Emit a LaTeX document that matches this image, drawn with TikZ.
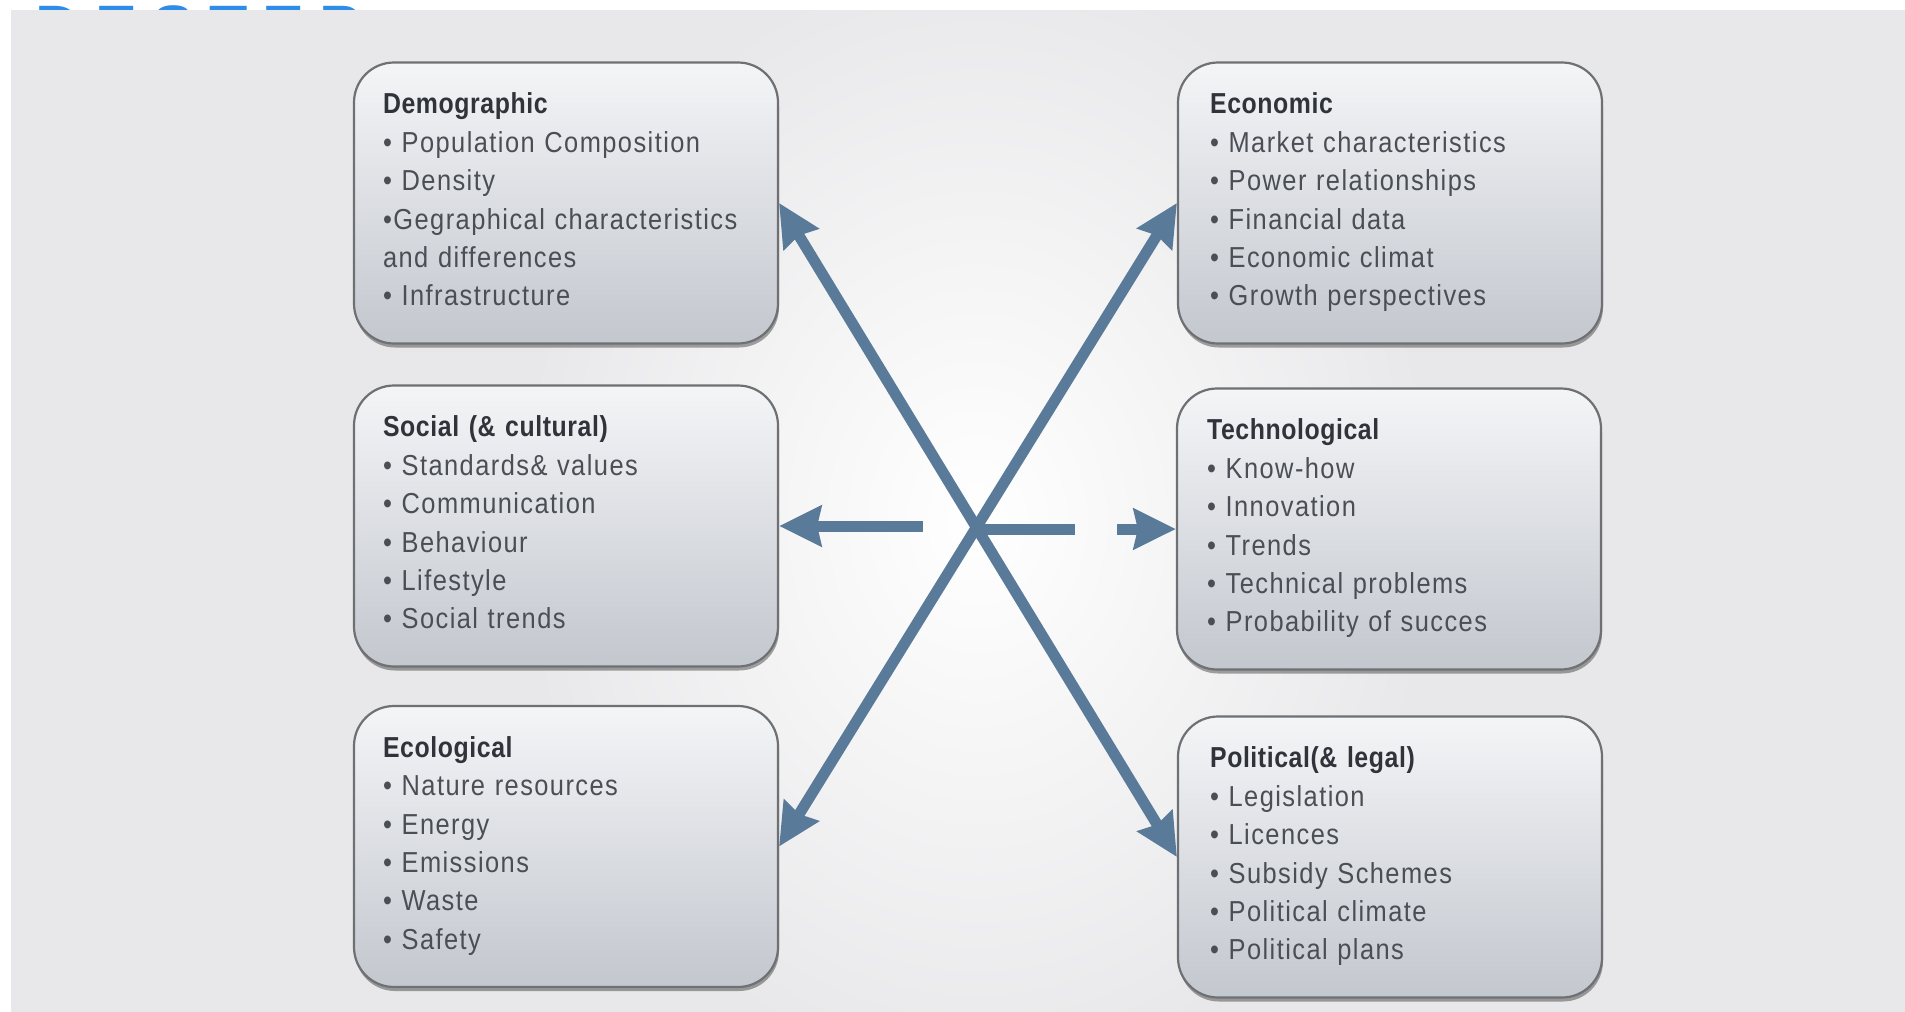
\documentclass[tikz,border=0pt]{standalone}
\usepackage{fontspec}
\setmainfont[FakeStretch=0.88,LetterSpace=5]{Liberation Sans}
\newfontfamily\titlefont[FakeStretch=0.86,LetterSpace=2]{Liberation Sans}
\newfontfamily\bigfont[LetterSpace=24]{Liberation Sans}
\usetikzlibrary{arrows.meta,shadows}
\definecolor{bgc}{HTML}{E8E8EA}
\definecolor{arrc}{HTML}{5A7A99}
\definecolor{titlec}{HTML}{30343A}
\definecolor{itemc}{HTML}{4A4E55}
\definecolor{boxtop}{HTML}{F4F5F7}
\definecolor{boxbot}{HTML}{C3C7CE}
\definecolor{boxline}{HTML}{6E7073}
\definecolor{destepc}{HTML}{2E8DE8}
\newcommand{\ttl}[1]{{\titlefont\bfseries\color{titlec}#1}}
\begin{document}
\begin{tikzpicture}[x=1bp,y=-1bp,
  box/.style={rounded corners=40bp, draw=boxline, line width=2.2bp,
    top color=boxtop, bottom color=boxbot,
    minimum width=424bp, minimum height=281bp, inner sep=0pt,
    drop shadow={shadow xshift=1bp, shadow yshift=-4bp, fill=black, opacity=0.35}},
  txt/.style={anchor=north west, inner sep=0pt, text width=400bp, align=left,
    font=\fontsize{29}{38.5}\selectfont, text=itemc},
  arr/.style={draw=arrc, line width=11bp, -{Stealth[length=42bp,width=40bp,inset=4bp]}},
  arrtwo/.style={draw=arrc, line width=11bp, {Stealth[length=42bp,width=40bp,inset=4bp]}-{Stealth[length=42bp,width=40bp,inset=4bp]}},
  plain/.style={draw=arrc, line width=11bp}
]
\useasboundingbox (0,0) rectangle (1905,1011);
\fill[white] (0,0) rectangle (1920,1030);
\node[anchor=base west, inner sep=0pt, text=destepc,
  font={\bigfont\fontsize{63}{70}\selectfont\bfseries}] (destep) at (35,49) {DESTEP};
\fill[bgc] (11,10) rectangle (1920,1030);
\begin{scope}
  \clip (11,10) rectangle (1920,1030);
  \shade[inner color=white, outer color=bgc] (977,520) ellipse [x radius=460, y radius=560];
\end{scope}

% boxes
\node[box] (demo) at (566,203) {};
\node[box] (soc)  at (566,526) {};
\node[box] (eco)  at (566,846.5) {};
\node[box] (econ) at (1390,203) {};
\node[box] (tech) at (1389,529) {};
\node[box] (pol)  at (1390,857) {};

% texts
\node[txt] (demot) at ([shift={(30,25.5)}]demo.north west) {\strut\ttl{Demographic}\\
\textbullet\ Population Composition\\
\textbullet\ Density\\
\textbullet Gegraphical characteristics\\
and differences\\
\textbullet\ Infrastructure};

\node[txt] (soct) at ([shift={(30,25.5)}]soc.north west) {\strut\ttl{Social (\& cultural)}\\
\textbullet\ Standards\& values\\
\textbullet\ Communication\\
\textbullet\ Behaviour\\
\textbullet\ Lifestyle\\
\textbullet\ Social trends};

\node[txt] (ecot) at ([shift={(30,25.5)}]eco.north west) {\strut\ttl{Ecological}\\
\textbullet\ Nature resources\\
\textbullet\ Energy\\
\textbullet\ Emissions\\
\textbullet\ Waste\\
\textbullet\ Safety};

\node[txt] (econt) at ([shift={(33,25.5)}]econ.north west) {\strut\ttl{Economic}\\
\textbullet\ Market characteristics\\
\textbullet\ Power relationships\\
\textbullet\ Financial data\\
\textbullet\ Economic climat\\
\textbullet\ Growth perspectives};

\node[txt] (techt) at ([shift={(31,25.5)}]tech.north west) {\strut\ttl{Technological}\\
\textbullet\ Know-how\\
\textbullet\ Innovation\\
\textbullet\ Trends\\
\textbullet\ Technical problems\\
\textbullet\ Probability of succes};

\node[txt] (polt) at ([shift={(33,25.5)}]pol.north west) {\strut\ttl{Political(\& legal)}\\
\textbullet\ Legislation\\
\textbullet\ Licences\\
\textbullet\ Subsidy Schemes\\
\textbullet\ Political climate\\
\textbullet\ Political plans};

% connectors
\draw[arrtwo] (demo.east) -- (pol.west);
\draw[arrtwo] (eco.east) -- (econ.west);
\coordinate (hl) at (923,526);
\coordinate (cx) at (977,529);
\coordinate (hr1) at (1075,529);
\coordinate (hr2) at (1117,529);
\draw[arr] (hl) -- (soc.east);
\draw[plain] (cx) -- (hr1);
\draw[arr] (hr2) -- (tech.west);
\end{tikzpicture}
\end{document}
